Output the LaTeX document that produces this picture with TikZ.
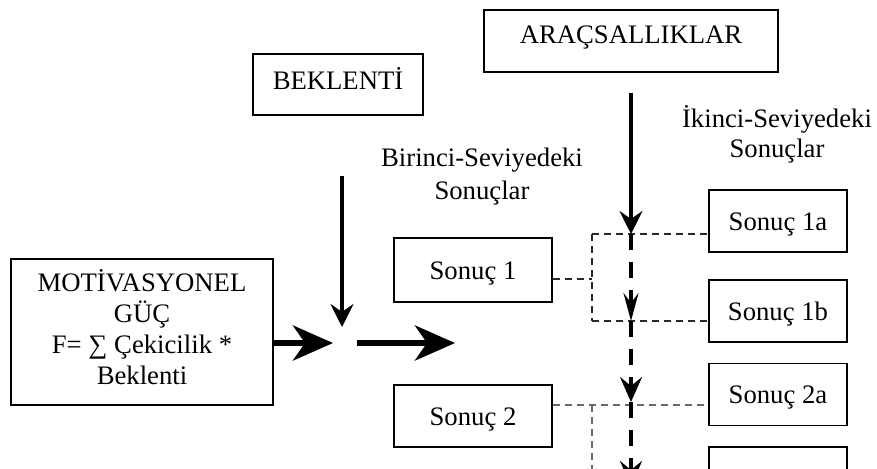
\documentclass[tikz,border=0pt]{standalone}
\usepackage{fontspec}
\setmainfont{Liberation Serif}
\usetikzlibrary{arrows.meta}
\definecolor{dashA}{RGB}{40,40,40}
\definecolor{dashB}{RGB}{105,105,105}
\begin{document}
\begin{tikzpicture}[x=0.5pt,y=-0.5pt,
  font=\fontsize{13.35}{15.5}\selectfont,
  box/.style={draw, line width=0.6pt, inner sep=0pt},
  sbox/.style={box, text height=9pt, text depth=0pt},
  txt/.style={inner sep=0pt, align=center},
  thindash/.style={line width=0.65pt, dash pattern=on 3.5pt off 2.5pt},
  thickdash/.style={line width=1.7pt, dash pattern=on 8pt off 6pt},
  bigarrow/.style={line width=3pt, -{Stealth[length=20pt,width=17.5pt,inset=6pt]}},
  medarrow/.style={line width=2pt, -{Stealth[length=11.5pt,width=11.5pt,inset=4pt]}}]
\useasboundingbox (0,0) rectangle (877,468);
\clip (0,0) rectangle (877,468);

% boxes
\node[box, minimum width=85pt, minimum height=30.5pt] (bek) at (338,84.5) {};
\node[txt, anchor=base] (bekT) at (338,89) {BEKLENTİ};
\node[box, minimum width=147pt, minimum height=31pt] (ara) at (631,41) {};
\node[txt, anchor=base] (araT) at (631,43) {ARAÇSALLIKLAR};
\node[box, minimum width=131pt, minimum height=73pt] (mot) at (142,332) {};
\node[txt] (motT) at (142,327.5) {MOTİVASYONEL\\GÜÇ\\F= ∑ Çekicilik *\\Beklenti};

\node[txt, font=\fontsize{13.35}{16.5}\selectfont] (bir) at (482,177) {Birinci-Seviyedeki\\Sonuçlar};
\node[txt, font=\fontsize{13.35}{15}\selectfont] (iki) at (777,134) {İkinci-Seviyedeki\\Sonuçlar};

\node[sbox, minimum width=79pt, minimum height=32pt] (s1) at (473,270) {Sonuç 1};
\node[sbox, minimum width=79pt, minimum height=31pt] (s2) at (473,416) {Sonuç 2};
\node[sbox, minimum width=69pt, minimum height=31pt] (s1a) at (778,221) {Sonuç 1a};
\node[sbox, minimum width=69pt, minimum height=31pt] (s1b) at (778,311) {Sonuç 1b};
\node[sbox, minimum width=69pt, minimum height=31pt] (s2a) at (778,394.5) {Sonuç 2a};
\node[sbox, minimum width=69pt, minimum height=31pt] (s2b) at (778,478) {};

% coordinates
\coordinate (j) at (342,343);
\coordinate (j1) at (333,343);
\coordinate (j2) at (357,343);
\coordinate (j3) at (455,343);
\coordinate (bk0) at (342,176);
\coordinate (bk1) at (342,327);
\coordinate (a0) at (631,93);
\coordinate (m0) at (631,234);
\coordinate (m1) at (631,321);
\coordinate (m2) at (631,402);
\coordinate (m3) at (631,486);
\coordinate (b1) at (592,279);
\coordinate (b1t) at (592,234);
\coordinate (b1b) at (592,321);
\coordinate (b2) at (592,405);
\coordinate (b2e) at (592,480);

% dashed branches
\draw[thindash, dashA] (s1.east |- b1) -- (b1);
\draw[thindash, dashA] (b1t) -- (b1b);
\draw[thindash, dashA] (b1t) -- (s1a.west |- b1t);
\draw[thindash, dashA] (b1b) -- (s1b.west |- b1b);
\draw[thindash, dashB] (s2.east |- b2) -- (s2a.west |- b2);
\draw[thindash, dashB] (b2) -- (b2e);

% arrows
\draw[bigarrow] (mot.east |- j) -- (j1);
\draw[bigarrow] (j2) -- (j3);
\draw[medarrow] (bk0) -- (bk1);
\draw[medarrow] (a0) -- (m0);
\draw[thickdash, -{Stealth[length=14pt,width=7.5pt,inset=5pt]}] (m0) -- (m1);
\draw[thickdash, -{Stealth[length=12.5pt,width=11pt,inset=4.5pt]}] (m1) -- (m2);
\draw[thickdash, -{Stealth[length=12.5pt,width=11pt,inset=4.5pt]}] (m2) -- (m3);
\end{tikzpicture}
\end{document}
